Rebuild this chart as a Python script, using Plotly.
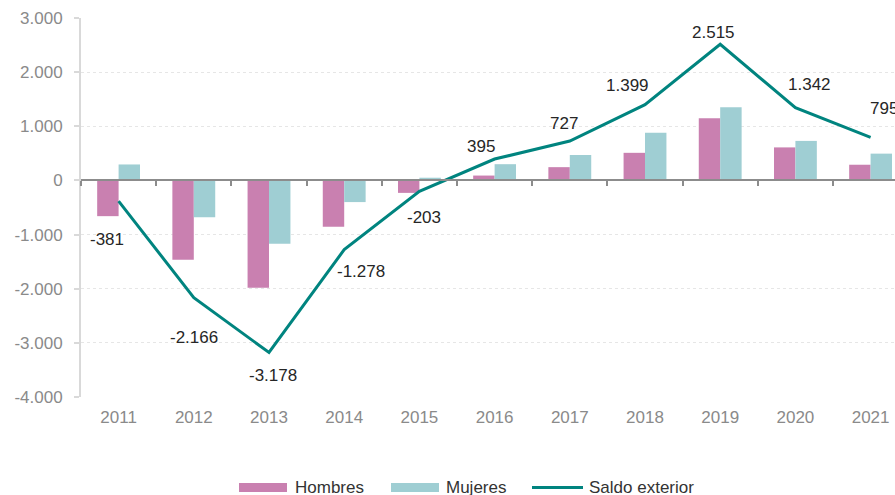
import plotly.graph_objects as go

# Datos por año
years = ["2011", "2012", "2013", "2014", "2015", "2016", "2017", "2018", "2019", "2020", "2021"]
hombres = [-660, -1465, -1980, -857, -230, 90, 245, 510, 1150, 610, 290]
mujeres = [295, -680, -1170, -400, 50, 300, 470, 880, 1350, 730, 495]
saldo = [-381, -2166, -3178, -1278, -203, 395, 727, 1399, 2515, 1342, 795]

y_tickvals = [-4000, -3000, -2000, -1000, 0, 1000, 2000, 3000]
y_ticktext = ["-4.000", "-3.000", "-2.000", "-1.000", "0", "1.000", "2.000", "3.000"]

# Desplazamiento (px) de cada etiqueta del saldo respecto a su punto
label_shift = [(-12, -38), (0, -40), (4, -23), (17, -22), (5, -26), (-14, 13),
               (-6, 18), (-18, 19), (-7, 12), (14, 23), (13, 29)]

C_H = "#c980b0"
C_M = "#9fced3"
C_S = "#00847f"
FONT = "Liberation Sans, Arial, sans-serif"

W, H = 895, 495
L, R, T, B = 81, 0, 18, 98
PW, PH = W - L - R, H - T - B


def px(x):
    return (x - L) / PW


def py(y):
    return (H - B - y) / PH


def fmt(v):
    return f"{v:,}".replace(",", ".")


fig = go.Figure()
fig.add_trace(go.Bar(x=years, y=hombres, name="Hombres", marker_color=C_H,
                     marker_line_width=0, showlegend=False))
fig.add_trace(go.Bar(x=years, y=mujeres, name="Mujeres", marker_color=C_M,
                     marker_line_width=0, showlegend=False))
fig.add_trace(go.Scatter(x=years, y=saldo, name="Saldo exterior", mode="lines",
                         line=dict(color=C_S, width=3), showlegend=False,
                         cliponaxis=False))
# Eje auxiliar para la línea del cero con marcas entre categorías
fig.add_trace(go.Scatter(x=years, y=[0] * len(years), xaxis="x2", mode="markers",
                         marker=dict(opacity=0), hoverinfo="skip", showlegend=False))

annotations = []
for i, (v, (dx, dy)) in enumerate(zip(saldo, label_shift)):
    annotations.append(dict(x=i, y=v, xref="x", yref="y", text=fmt(v), showarrow=False,
                            xshift=dx, yshift=dy, xanchor="center", yanchor="middle",
                            font=dict(family=FONT, size=17, color="#262626")))

# Leyenda
shapes = []
legend_items = [
    ("rect", 239, 287, C_H, 292.5, "Hombres"),
    ("rect", 391, 439, C_M, 443.5, "Mujeres"),
    ("line", 532, 583, C_S, 586.5, "Saldo exterior"),
]
ly = 487.5
for kind, x0, x1, col, tx, label in legend_items:
    if kind == "rect":
        shapes.append(dict(type="rect", xref="paper", yref="paper",
                           x0=px(x0), x1=px(x1), y0=py(ly + 4.5), y1=py(ly - 4.5),
                           fillcolor=col, line_width=0))
    else:
        shapes.append(dict(type="line", xref="paper", yref="paper",
                           x0=px(x0), x1=px(x1), y0=py(ly), y1=py(ly),
                           line=dict(color=col, width=3)))
    annotations.append(dict(x=px(tx), y=py(ly), xref="paper", yref="paper",
                            text=label, showarrow=False, xanchor="left",
                            yanchor="middle",
                            font=dict(family=FONT, size=17, color="#333333")))

xr = [-0.5, PW / 75.2 - 0.5]

fig.update_layout(
    width=W, height=H,
    margin=dict(l=L, r=R, t=T, b=B, pad=0),
    paper_bgcolor="white", plot_bgcolor="white",
    barmode="group", bargap=0.43, bargroupgap=0,
    font=dict(family=FONT, size=17, color="#8a8a8a"),
    xaxis=dict(type="category", range=xr, showgrid=False, showline=False,
               zeroline=False, ticks="", ticklabelstandoff=8,
               tickfont=dict(size=17, color="#8a8a8a")),
    xaxis2=dict(type="category", range=xr, overlaying="x", anchor="free",
                position=4 / 7, side="bottom", showline=True, linecolor="#8c8c8c",
                linewidth=2, ticks="outside", tickson="boundaries", ticklen=5,
                tickwidth=1.5, tickcolor="#8c8c8c", showticklabels=False,
                showgrid=False, zeroline=False),
    yaxis=dict(range=[-4000, 3000], tickvals=y_tickvals, ticktext=y_ticktext,
               showgrid=True, gridcolor="#e6e6e6", griddash="dot", gridwidth=1,
               zeroline=False, showline=True, linecolor="#d9d9d9", linewidth=2,
               ticks="outside", ticklen=5, tickcolor="#d9d9d9", tickwidth=1.5,
               ticklabelstandoff=8, tickfont=dict(size=17, color="#8a8a8a")),
    annotations=annotations,
    shapes=shapes,
)

fig.write_html("out.html")
